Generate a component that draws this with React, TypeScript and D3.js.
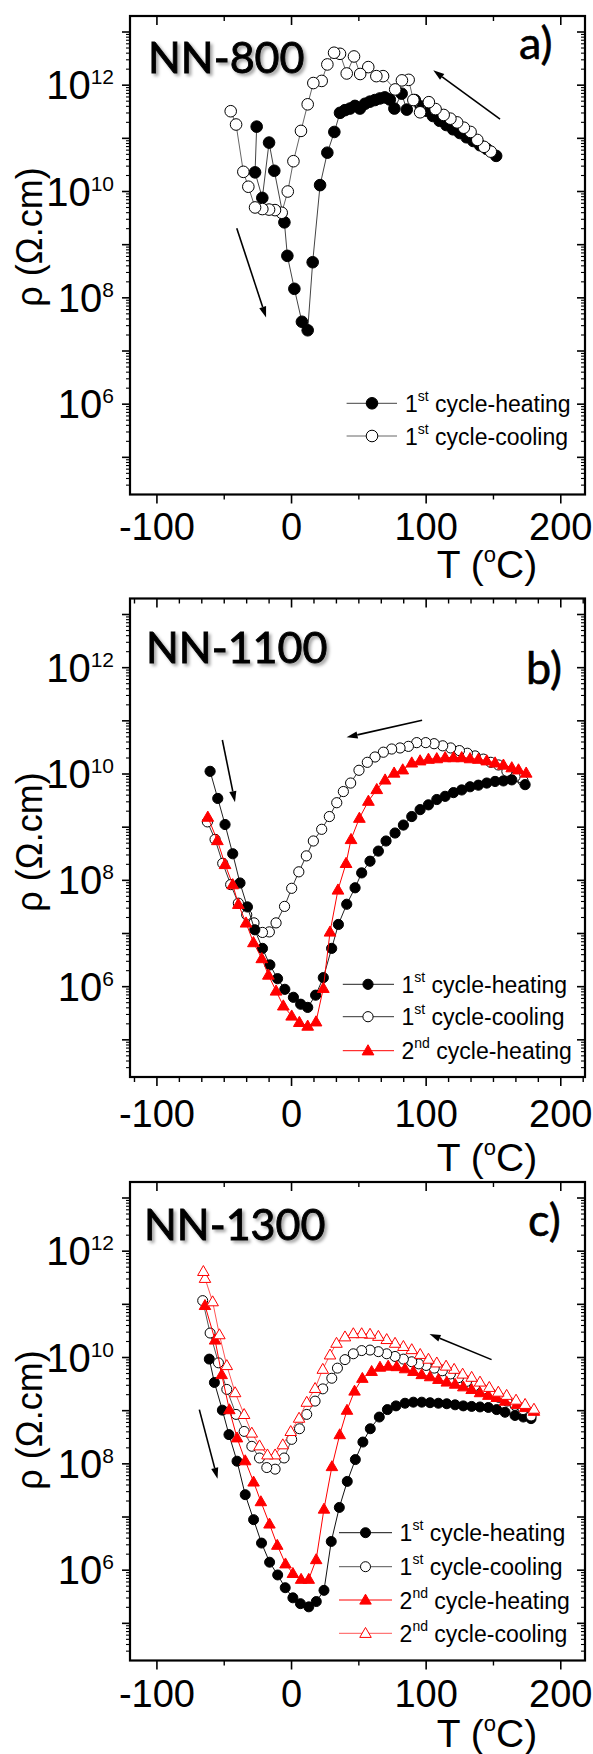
import React from "react";
import * as d3 from "d3";

const FONT = "'Liberation Sans', Arial, Helvetica, sans-serif";
const TITLE_FONT = "Lato, 'Open Sans', sans-serif";

// ---------- shared axes ----------
const T_DOMAIN: [number, number] = [-120, 218];
const RHO_DOMAIN: [number, number] = [2e4, 2e13];
const X_MAJOR = [-100, 0, 100, 200];
const Y_LABELED = [6, 8, 10, 12];
const Y_DECADES = [5, 6, 7, 8, 9, 10, 11, 12, 13];

// ---------- data: [T (°C), log10 rho (Ω.cm)] ----------
// Panel a) NN-800
const aHeating1: [number, number][] = [
  [-25.9, 11.22], [-27.1, 10.36], [-21.7, 9.88], [-16.7, 10.92], [-12.8, 10.39], [-5.3, 9.42],
  [-3.1, 8.79], [2.1, 8.17], [7.7, 7.55], [12.0, 7.39], [15.7, 8.67], [21.2, 10.12], [26.6, 10.73],
  [31.8, 11.12], [36.0, 11.48], [39.7, 11.53], [43.4, 11.56], [47.1, 11.61], [50.8, 11.56],
  [54.5, 11.65], [58.2, 11.69], [61.9, 11.72], [65.6, 11.75], [69.3, 11.77], [73.0, 11.73],
  [76.4, 11.56], [81.8, 11.84], [85.6, 11.54], [91.6, 11.72], [96, 11.6], [100, 11.52],
  [105, 11.42], [110, 11.33], [115, 11.25], [120, 11.17], [125, 11.1], [130, 11.02],
  [135, 10.95], [140, 10.87], [145, 10.8], [152, 10.67],
];
const aCooling1: [number, number][] = [
  [148, 10.75], [143, 10.84], [138, 10.97], [133, 11.12], [128, 11.2], [123, 11.3], [118, 11.37],
  [113, 11.44], [107, 11.55], [102, 11.68], [95.5, 11.49], [90.5, 11.72], [87, 12.1], [82, 12.09],
  [77, 11.92], [68, 12.17], [63, 12.17], [57, 12.34], [51, 12.21], [46.4, 12.54], [41, 12.22],
  [36, 12.59], [31.6, 12.61], [26.6, 12.39], [22.4, 12.08], [16.2, 12.04], [12, 11.64],
  [7, 11.14], [1.4, 10.57], [-2.8, 10.0], [-7.3, 9.6], [-12.3, 9.65], [-16.7, 9.66],
  [-21.7, 9.67], [-27.1, 9.7], [-32.1, 10.09], [-35.8, 10.37], [-41.2, 11.26], [-45.2, 11.51],
];

// Panel b) NN-1100
const bHeating1: [number, number][] = [
  [-60.5, 10.05], [-54.8, 9.54], [-49.4, 9.05], [-43.7, 8.5], [-38.3, 7.95], [-32.8, 7.5],
  [-27.3, 7.07], [-21.6, 6.72], [-16.1, 6.41], [-10.4, 6.15], [-5, 5.95], [1.4, 5.8], [6.8, 5.67],
  [12, 5.61], [17.9, 5.84], [23.6, 6.17], [29.8, 6.72], [34.8, 7.17], [41, 7.55], [47.2, 7.86],
  [52.1, 8.14], [58.3, 8.36], [64.5, 8.55], [70.2, 8.74], [76.9, 8.89], [83.1, 9.04], [89.3, 9.2],
  [95.5, 9.33], [101.7, 9.42], [107.9, 9.52], [114.1, 9.58], [120.3, 9.65], [126.4, 9.7],
  [132.6, 9.76], [138.8, 9.79], [145, 9.83], [151.2, 9.86], [157.4, 9.87], [163.6, 9.89],
  [173.5, 9.8],
];
const bCooling1: [number, number][] = [
  [172, 9.87], [166, 9.95], [160, 10.05], [153.7, 10.17], [148, 10.22], [142.5, 10.28],
  [136.3, 10.34], [130.6, 10.39], [124.7, 10.44], [118.2, 10.49], [112.3, 10.53], [105.9, 10.57],
  [99.7, 10.59], [93, 10.59], [86.8, 10.52], [80.6, 10.49], [74.4, 10.47], [68.2, 10.41],
  [62, 10.32], [56.3, 10.22], [50.1, 10.07], [43.9, 9.83], [38.5, 9.67], [33.6, 9.46],
  [28.1, 9.2], [22.4, 8.96], [16.2, 8.74], [11, 8.46], [5.4, 8.16], [0.1, 7.85], [-5.2, 7.51],
  [-11.5, 7.2], [-16.5, 7.03], [-21.6, 7.02], [-27.9, 7.2], [-33.3, 7.35], [-39.5, 7.57],
  [-45.2, 7.92], [-51.1, 8.32], [-56.8, 8.77], [-62.5, 9.1],
];
const bHeating2: [number, number][] = [
  [-62.2, 9.19], [-55.1, 8.75], [-49.4, 8.3], [-43.7, 7.92], [-39.5, 7.55], [-33.8, 7.2],
  [-28.3, 6.83], [-22.1, 6.53], [-17.2, 6.22], [-11.5, 5.92], [-6.1, 5.64], [0.1, 5.45],
  [5.8, 5.33], [12, 5.26], [18.2, 5.34], [23.6, 5.97], [28.6, 7.03], [34.5, 7.82], [40.5, 8.32],
  [44.2, 8.77], [50.4, 9.17], [57.1, 9.49], [63.3, 9.71], [69.5, 9.89], [76.2, 10.02],
  [82.6, 10.08], [89.3, 10.21], [95.5, 10.25], [101.7, 10.28], [107.9, 10.29], [114.1, 10.31],
  [120.3, 10.31], [126.4, 10.31], [132.6, 10.29], [138.8, 10.28], [145, 10.25], [151.2, 10.21],
  [157.4, 10.17], [163.6, 10.12], [168.6, 10.08], [174.3, 10.02],
];

// Panel c) NN-1300
const cHeating1: [number, number][] = [
  [-61.1, 9.97], [-57.3, 9.53], [-51.4, 9.01], [-46.5, 8.55], [-40.5, 8.05], [-34.4, 7.42],
  [-28.2, 6.95], [-22.3, 6.51], [-16.3, 6.15], [-10.3, 5.91], [-4.7, 5.67], [1, 5.48], [6.6, 5.37],
  [12.8, 5.31], [18.4, 5.41], [24.1, 5.62], [29.5, 6.54], [35.5, 7.18], [41.4, 7.67], [47.4, 8.08],
  [53, 8.41], [58.5, 8.66], [65.2, 8.88], [71.2, 9.02], [77.6, 9.09], [84.3, 9.14], [90.5, 9.16],
  [96.7, 9.16], [102.9, 9.15], [109.1, 9.14], [115.3, 9.13], [121.5, 9.11], [127.6, 9.09],
  [133.8, 9.08], [140, 9.07], [146.2, 9.06], [152.4, 9.02], [158.6, 8.97], [166, 8.91],
  [172.2, 8.88], [177.9, 8.85],
];
const cCooling1: [number, number][] = [
  [178, 8.9], [172, 9.02], [166, 9.1], [160, 9.18], [154, 9.25], [148, 9.33], [142, 9.4],
  [136, 9.47], [130, 9.55], [124, 9.62], [118, 9.69], [112, 9.75], [106, 9.8], [100, 9.85],
  [94.5, 9.88], [89.3, 9.92], [83.1, 9.97], [76.9, 10.02], [70.7, 10.07], [64.5, 10.11],
  [58.3, 10.14], [52.1, 10.13], [45.9, 10.07], [39.7, 9.96], [34.1, 9.8], [29.9, 9.61],
  [23.2, 9.41], [17.5, 9.18], [11.3, 8.93], [5.9, 8.66], [0.1, 8.46], [-5.5, 8.11], [-12.2, 7.9],
  [-18.4, 7.93], [-23.8, 8.11], [-29.5, 8.33], [-35.2, 8.61], [-41.2, 8.93], [-48.1, 9.4],
  [-54.3, 9.9], [-60.5, 10.46], [-66, 11.07],
];
const cHeating2: [number, number][] = [
  [-64.3, 10.98], [-56.8, 10.33], [-51.9, 9.68], [-46.2, 9.02], [-40.5, 8.49], [-34.4, 8.06],
  [-28.2, 7.66], [-22.8, 7.29], [-16.4, 6.87], [-10.6, 6.47], [-4.5, 6.12], [1, 5.94], [7.1, 5.83],
  [12.8, 5.83], [18.3, 6.2], [24.1, 7.15], [30, 7.95], [35.8, 8.55], [41.2, 9.01], [46.8, 9.37],
  [52.6, 9.61], [59.5, 9.74], [65.7, 9.82], [71.8, 9.84], [78.1, 9.83], [84.3, 9.79], [90.5, 9.74],
  [96.7, 9.68], [102.9, 9.64], [109.1, 9.59], [115.3, 9.54], [121.5, 9.5], [127.6, 9.45],
  [133.8, 9.4], [140, 9.34], [146.2, 9.29], [152.4, 9.25], [158.6, 9.18], [167.3, 9.12],
  [173.5, 9.06], [180.1, 8.99],
];
const cCooling2: [number, number][] = [
  [180.1, 9.03], [173.5, 9.12], [166.8, 9.2], [159.8, 9.29], [153.6, 9.35], [146.9, 9.44],
  [140, 9.54], [133.8, 9.63], [127.1, 9.69], [120.8, 9.78], [114.8, 9.84], [107.9, 9.9],
  [101.7, 9.97], [95.6, 10.06], [89.3, 10.15], [83.1, 10.21], [76.9, 10.27], [70.7, 10.34],
  [64.5, 10.4], [58.3, 10.44], [52.1, 10.45], [45.9, 10.45], [39.7, 10.39], [33.4, 10.27],
  [28.6, 10.05], [23.2, 9.78], [17.5, 9.42], [11.3, 9.16], [5.6, 8.86], [-0.6, 8.61],
  [-6.5, 8.36], [-12.2, 8.17], [-17.9, 8.17], [-23.8, 8.34], [-29.5, 8.58], [-35.2, 8.93],
  [-41.9, 9.34], [-48.1, 9.85], [-53.6, 10.43], [-58.6, 11.05], [-64.3, 11.49], [-65.5, 11.62],
];

// arrows: [T1, log1, T2, log2] (head at second point)
const aArrows = [[154.9, 11.36, 105.3, 12.28], [-40.7, 9.31, -18.9, 7.63]];
const bArrows = [[97, 11.01, 40.9, 10.69], [-51.4, 10.64, -42, 9.47]];
const cArrows = [[148.6, 9.96, 102.5, 10.44], [-68.5, 9.02, -55, 7.72]];

type Series = {
  data: [number, number][];
  marker: "circle" | "triangle";
  filled: boolean;
  color: string;
  lineColor: string;
  ord: string;
  kind: string;
};

const RED = "#ff0000";

type PanelCfg = {
  top: number;
  title: string;
  titleX: number;
  titleY: number;
  letter: string;
  letterX: number;
  letterY: number;
  labelCY: number;
  tickLabelY: number;
  tLabelY: number;
  minorStep: number;
  r: number;
  series: Series[];
  legendOrder: number[];
  legend: { x1: number; x2: number; mx: number; tx: number; rows: number[] };
  arrows: number[][];
};

const X0 = 130;
const X1 = 585;
const PH = 478.5;

const panels: PanelCfg[] = [
  {
    top: 16, title: "NN-800", titleX: 148, titleY: 73, letter: "a)", letterX: 519, letterY: 59,
    labelCY: 237, tickLabelY: 540, tLabelY: 578, minorStep: 50, r: 5.8,
    series: [
      { data: aHeating1, marker: "circle", filled: true, color: "#000", lineColor: "#444", ord: "st", kind: "cycle-heating" },
      { data: aCooling1, marker: "circle", filled: false, color: "#000", lineColor: "#666", ord: "st", kind: "cycle-cooling" },
    ],
    legendOrder: [0, 1],
    legend: { x1: 346.6, x2: 397, mx: 372, tx: 405, rows: [403.3, 436] },
    arrows: aArrows,
  },
  {
    top: 598.5, title: "NN-1100", titleX: 146, titleY: 663, letter: "b)", letterX: 526, letterY: 684,
    labelCY: 842, tickLabelY: 1127, tLabelY: 1171, minorStep: 100 / 6, r: 5.1,
    series: [
      { data: bCooling1, marker: "circle", filled: false, color: "#000", lineColor: "#333", ord: "st", kind: "cycle-cooling" },
      { data: bHeating1, marker: "circle", filled: true, color: "#000", lineColor: "#222", ord: "st", kind: "cycle-heating" },
      { data: bHeating2, marker: "triangle", filled: true, color: RED, lineColor: RED, ord: "nd", kind: "cycle-heating" },
    ],
    legendOrder: [1, 0, 2],
    legend: { x1: 342.8, x2: 394, mx: 368, tx: 401.5, rows: [984.3, 1016.7, 1050.7] },
    arrows: bArrows,
  },
  {
    top: 1182, title: "NN-1300", titleX: 144, titleY: 1240, letter: "c)", letterX: 528, letterY: 1236,
    labelCY: 1420, tickLabelY: 1707, tLabelY: 1747, minorStep: 50, r: 5,
    series: [
      { data: cHeating1, marker: "circle", filled: true, color: "#000", lineColor: "#111", ord: "st", kind: "cycle-heating" },
      { data: cCooling1, marker: "circle", filled: false, color: "#000", lineColor: "#555", ord: "st", kind: "cycle-cooling" },
      { data: cHeating2, marker: "triangle", filled: true, color: RED, lineColor: RED, ord: "nd", kind: "cycle-heating" },
      { data: cCooling2, marker: "triangle", filled: false, color: RED, lineColor: "#ff5555", ord: "nd", kind: "cycle-cooling" },
    ],
    legendOrder: [0, 1, 2, 3],
    legend: { x1: 339, x2: 392, mx: 365.5, tx: 399.6, rows: [1532.7, 1566.7, 1600, 1633.3] },
    arrows: cArrows,
  },
];

function Marker({ s, cx, cy, r }: { s: Series; cx: number; cy: number; r: number }) {
  if (s.marker === "circle") {
    return (
      <circle cx={cx} cy={cy} r={r} fill={s.filled ? s.color : "#fff"} stroke={s.color} strokeWidth={1} />
    );
  }
  const side = r * 2.3;
  const path = d3.symbol().type(d3.symbolTriangle).size((side * side * Math.sqrt(3)) / 4)();
  return (
    <path d={path || ""} transform={`translate(${cx},${cy + 0.8})`} fill={s.filled ? s.color : "#fff"} stroke={s.color} strokeWidth={1} />
  );
}

function Arrow({ x1, y1, x2, y2 }: { x1: number; y1: number; x2: number; y2: number }) {
  const ang = Math.atan2(y2 - y1, x2 - x1);
  const L = 11, Wd = 3.6;
  const bx = x2 - L * Math.cos(ang), by = y2 - L * Math.sin(ang);
  const px = -Math.sin(ang) * Wd, py = Math.cos(ang) * Wd;
  return (
    <g>
      <line x1={x1} y1={y1} x2={bx} y2={by} stroke="#000" strokeWidth={1.6} />
      <polygon points={`${x2},${y2} ${bx + px},${by + py} ${bx - px},${by - py}`} fill="#000" />
    </g>
  );
}

function Panel({ cfg }: { cfg: PanelCfg }) {
  const x = d3.scaleLinear().domain(T_DOMAIN).range([X0, X1]);
  const y = d3.scaleLog().domain(RHO_DOMAIN).range([cfg.top + PH, cfg.top]);
  const bottom = cfg.top + PH;
  const line = d3
    .line<[number, number]>()
    .x((d) => x(d[0]))
    .y((d) => y(Math.pow(10, d[1])));

  const xMinor: number[] = [];
  for (let v = -100 - cfg.minorStep * Math.floor(20 / cfg.minorStep); v <= 218.01; v += cfg.minorStep) {
    const rv = Math.round(v * 1000) / 1000;
    if (rv < T_DOMAIN[0] || rv > T_DOMAIN[1]) continue;
    if (X_MAJOR.some((m) => Math.abs(m - rv) < 0.01)) continue;
    xMinor.push(rv);
  }
  const yMinor: number[] = [];
  for (let d = 4; d <= 13; d++) {
    for (let k = 2; k <= 9; k++) {
      const v = k * Math.pow(10, d);
      if (v > RHO_DOMAIN[0] && v < RHO_DOMAIN[1]) yMinor.push(v);
    }
  }

  return (
    <g>
      {/* data */}
      {cfg.series.map((s, i) => (
        <g key={i}>
          <path d={line(s.data) || ""} fill="none" stroke={s.lineColor} strokeWidth={1} />
          {s.data.map((d, j) => (
            <Marker key={j} s={s} cx={x(d[0])} cy={y(Math.pow(10, d[1]))} r={cfg.r} />
          ))}
        </g>
      ))}

      {/* frame */}
      <rect x={X0} y={cfg.top} width={X1 - X0} height={PH} fill="none" stroke="#000" strokeWidth={2.2} />

      {/* x ticks */}
      {X_MAJOR.map((v) => (
        <g key={`xm${v}`}>
          <line x1={x(v)} x2={x(v)} y1={bottom} y2={bottom + 9} stroke="#000" strokeWidth={1.6} />
          <line x1={x(v)} x2={x(v)} y1={cfg.top} y2={cfg.top + 9} stroke="#000" strokeWidth={1.6} />
          <text x={x(v)} y={cfg.tickLabelY} textAnchor="middle" fontFamily={FONT} fontSize={38} fill="#000">
            {v < 0 ? `-${Math.abs(v)}` : `${v}`}
          </text>
        </g>
      ))}
      {xMinor.map((v) => (
        <g key={`xn${v}`}>
          <line x1={x(v)} x2={x(v)} y1={bottom} y2={bottom + 5} stroke="#000" strokeWidth={1.4} />
          <line x1={x(v)} x2={x(v)} y1={cfg.top} y2={cfg.top + 5} stroke="#000" strokeWidth={1.4} />
        </g>
      ))}

      {/* y ticks */}
      {Y_DECADES.map((d) => {
        const yy = y(Math.pow(10, d));
        return (
          <g key={`yd${d}`}>
            <line x1={X0 - 8} x2={X0} y1={yy} y2={yy} stroke="#000" strokeWidth={1.6} />
            <line x1={X1 - 8} x2={X1} y1={yy} y2={yy} stroke="#000" strokeWidth={1.6} />
          </g>
        );
      })}
      {yMinor.map((v, i) => {
        const yy = y(v);
        return (
          <g key={`yn${i}`}>
            <line x1={X0 - 4} x2={X0} y1={yy} y2={yy} stroke="#000" strokeWidth={1.1} />
            <line x1={X1 - 4} x2={X1} y1={yy} y2={yy} stroke="#000" strokeWidth={1.1} />
          </g>
        );
      })}
      {Y_LABELED.map((d) => (
        <text key={`yl${d}`} x={114} y={y(Math.pow(10, d)) + 14} textAnchor="end" fontFamily={FONT} fill="#000">
          <tspan fontSize={40}>10</tspan>
          <tspan fontSize={21} dy={-15}>{d}</tspan>
        </text>
      ))}

      {/* axis titles */}
      <text
        transform={`translate(42,${cfg.labelCY}) rotate(-90)`}
        textAnchor="middle"
        fontFamily={FONT}
        fontSize={36}
        fill="#000"
      >
        ρ (Ω.cm)
      </text>
      <text x={487} y={cfg.tLabelY} textAnchor="middle" fontFamily={FONT} fontSize={39} fill="#000">
        T (<tspan fontSize={22} dy={-16}>o</tspan>
        <tspan dy={16}>C)</tspan>
      </text>

      {/* titles */}
      <text
        x={cfg.titleX}
        y={cfg.titleY}
        fontFamily={TITLE_FONT}
        fontSize={43}
        fill="#000"
        stroke="#000"
        strokeWidth={0.9}
        filter="url(#shadow)"
      >
        {cfg.title}
      </text>
      <text x={cfg.letterX} y={cfg.letterY} fontFamily={TITLE_FONT} fontSize={45} fill="#000" stroke="#000" strokeWidth={0.6}>
        {cfg.letter}
      </text>

      {/* arrows */}
      {cfg.arrows.map((a, i) => (
        <Arrow key={i} x1={x(a[0])} y1={y(Math.pow(10, a[1]))} x2={x(a[2])} y2={y(Math.pow(10, a[3]))} />
      ))}

      {/* legend */}
      {cfg.legendOrder.map((si, row) => {
        const s = cfg.series[si];
        const ry = cfg.legend.rows[row];
        return (
          <g key={`lg${row}`}>
            <line x1={cfg.legend.x1} x2={cfg.legend.x2} y1={ry} y2={ry} stroke={s.lineColor} strokeWidth={1} />
            <Marker s={s} cx={cfg.legend.mx} cy={ry} r={cfg.r} />
            <text x={cfg.legend.tx} y={ry + 8.5} fontFamily={FONT} fontSize={23} fill="#000">
              {s.ord === "st" ? "1" : "2"}
              <tspan fontSize={14} dy={-11}>{s.ord}</tspan>
              <tspan dy={11}> {s.kind}</tspan>
            </text>
          </g>
        );
      })}
    </g>
  );
}

export default function App() {
  return (
    <svg
      width={593}
      height={1754}
      viewBox="0 0 593 1754"
      style={{ position: "absolute", left: 0, top: 0, background: "#fff" }}
    >
      <defs>
        <filter id="shadow" x="-10%" y="-20%" width="130%" height="150%">
          <feDropShadow dx={2.5} dy={2.5} stdDeviation={1.6} floodColor="#000" floodOpacity={0.35} />
        </filter>
      </defs>
      <rect x={0} y={0} width={593} height={1754} fill="#fff" />
      {panels.map((p, i) => (
        <Panel key={i} cfg={p} />
      ))}
    </svg>
  );
}
